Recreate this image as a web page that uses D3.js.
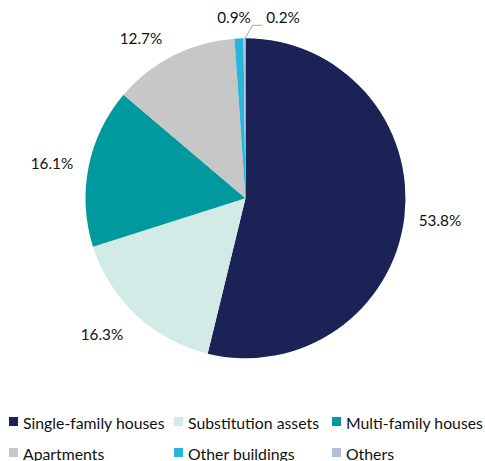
<!DOCTYPE html>
<html><head><meta charset="utf-8">
<script src="https://cdn.jsdelivr.net/npm/d3@7"></script>
<style>body{margin:0;background:#fff;}svg{display:block;}</style>
</head><body>
<svg id="chart" width="485" height="461"></svg>
<script>
const categories = ["Single-family houses","Substitution assets","Multi-family houses","Apartments","Other buildings","Others"];
const values = [53.8, 16.3, 16.1, 12.7, 0.9, 0.2];
const colors = ["#1b2256","#d3ebe6","#009a9e","#c7c7c7","#29b6dc","#b3c0d3"];
const labels = ["53.8%","16.3%","16.1%","12.7%","0.9%","0.2%"];

const svg = d3.select("#chart");
const font = "Lato, 'Open Sans', sans-serif";
const cx = 245.5, cy = 198.3, R = 160;
const g = svg.append("g").attr("transform", `translate(${cx},${cy})`);
const pie = d3.pie().sort(null).value(d => d)(values);
const arc = d3.arc().innerRadius(0).outerRadius(R);
g.selectAll("path").data(pie).join("path")
  .attr("d", arc).attr("fill", (d,i) => colors[i]);

// label offsets relative to the pie center
const labelPos = [
  [194.5, 21.5],
  [-143.5, 135.7],
  [-193.5, -35],
  [-104.5, -160.5],
  [-11.5, -181],
  [37.5, -181]
];

g.selectAll("text.lbl").data(labels).join("text").attr("class","lbl")
  .attr("x",(d,i)=>labelPos[i][0]).attr("y",(d,i)=>labelPos[i][1])
  .attr("text-anchor","middle").attr("dominant-baseline","central")
  .attr("font-family",font).attr("font-size",15.3).attr("fill","#111")
  .text(d=>d);

// leader line for 0.2%
const a5 = (pie[5].startAngle + pie[5].endAngle)/2;
const p0 = [Math.sin(a5)*R, -Math.cos(a5)*R];
g.append("polyline")
  .attr("points", `${p0[0]},${p0[1]+1} ${p0[0]+8},${-173} ${p0[0]+18},${-173}`)
  .attr("fill","none").attr("stroke","#a6a6a6").attr("stroke-width",1);

// legend
const legX = [9, 174, 332];
const legY = [422, 453];
const leg = svg.append("g");
categories.forEach((c,i) => {
  const col = i % 3, row = Math.floor(i/3);
  leg.append("rect").attr("x", legX[col]).attr("y", legY[row]-5)
    .attr("width",9).attr("height",9).attr("fill",colors[i]);
  leg.append("text").attr("x", legX[col]+14).attr("y", legY[row])
    .attr("dominant-baseline","central")
    .attr("font-family",font).attr("font-size",15.8).attr("fill","#111")
    .text(c);
});
</script>
</body></html>
